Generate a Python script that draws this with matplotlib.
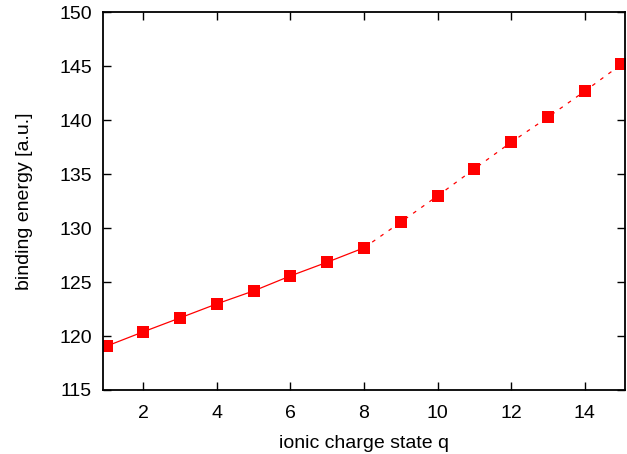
import numpy as np
import matplotlib
matplotlib.use('Agg')
import matplotlib.pyplot as plt

plt.rcParams['font.family'] = ['Liberation Sans', 'DejaVu Sans']

# binding energy vs ionic charge state
q_solid = [1, 2, 3, 4, 5, 6, 7, 8]
e_solid = [119.07, 120.40, 121.69, 122.99, 124.19, 125.58, 126.85, 128.18]
q_dash = [8, 9, 10, 11, 12, 13, 14, 15]
e_dash = [128.18, 130.56, 132.99, 135.49, 137.96, 140.28, 142.69, 145.19]

fig = plt.figure(figsize=(6.27, 4.54), dpi=100)
ax = fig.add_axes([0.1643, 0.141, 0.8325, 0.8315])

ax.plot(q_solid, e_solid, '-', color='red', lw=0.9)
ax.plot(q_dash, e_dash, '--', color='red', lw=0.9, dashes=(3, 5))
ax.plot(q_solid + q_dash[1:], e_solid + e_dash[1:], 's', color='red',
        markersize=8.6, markeredgewidth=0, linestyle='none')

ax.set_xlim(0.9, 15.1)
ax.set_ylim(115, 150)
ax.set_xticks([2, 4, 6, 8, 10, 12, 14])
ax.set_yticks(np.arange(115, 151, 5))
ax.tick_params(direction='in', length=6, width=1, labelsize=14,
               top=True, right=True)
ax.tick_params(axis='x', pad=11)
ax.tick_params(axis='y', pad=8)
for s in ax.spines.values():
    s.set_linewidth(1.3)

ax.set_xlabel('ionic charge state q', fontsize=14, labelpad=9)
ax.set_ylabel('binding energy [a.u.]', fontsize=14, labelpad=19)

fig.savefig('out.png', dpi=100)
